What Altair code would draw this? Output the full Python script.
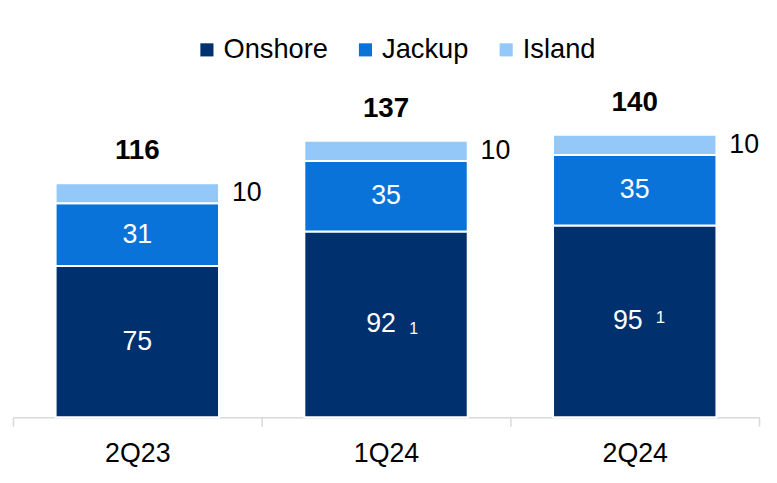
import altair as alt
import pandas as pd

quarters = ["2Q23", "1Q24", "2Q24"]
segments = ["Onshore", "Jackup", "Island"]
onshore = [75, 92, 95]
jackup = [31, 35, 35]
island = [10, 10, 10]
totals = [116, 137, 140]
footnotes = ["", "1", "1"]
colors = ["#00306e", "#0a73d9", "#93c8f9"]

rows = []
for i, q in enumerate(quarters):
    for k, (s, vals) in enumerate(zip(segments, [onshore, jackup, island])):
        rows.append({"quarter": q, "segment": s, "value": vals[i], "order": k,
                     "note": footnotes[i] if s == "Onshore" else ""})
df = pd.DataFrame(rows)
tot_df = pd.DataFrame({"quarter": quarters, "total": totals})

FONT = "Liberation Sans"
yscale = alt.Scale(domain=[0, 160])
x = alt.X("quarter:N", sort=quarters,
          scale=alt.Scale(paddingInner=0, paddingOuter=0),
          axis=alt.Axis(title=None, labelAngle=0, tickBand="extent",
                        domainColor="#d9d9d9", tickColor="#d9d9d9",
                        domainWidth=1.5, tickWidth=1.5, tickSize=9,
                        labelFontSize=27, labelFont=FONT, labelColor="#000000",
                        labelPadding=15, grid=False))

base = (alt.Chart(df)
        .transform_stack(stack="value", groupby=["quarter"],
                         sort=[alt.SortField("order")], as_=["y0", "y1"])
        .transform_calculate(mid="(datum.y0 + datum.y1) / 2"))

bars = base.mark_bar(stroke="white", strokeWidth=2,
                     width=alt.RelativeBandSize(0.657)).encode(
    x=x,
    y=alt.Y("y0:Q", scale=yscale, axis=None),
    y2="y1:Q",
    color=alt.Color("segment:N", scale=alt.Scale(domain=segments, range=colors),
                    legend=alt.Legend(title=None, orient="none", direction="horizontal",
                                      legendX=182, legendY=-59, symbolType="square",
                                      symbolSize=175, symbolStrokeWidth=0,
                                      labelFontSize=27.5, labelFont=FONT,
                                      labelColor="#000000", labelOffset=3,
                                      columnPadding=24)),
)

inner_plain = base.transform_filter(
    "datum.segment != 'Island' && datum.note == ''"
).mark_text(color="white", fontSize=27, font=FONT, baseline="middle").encode(
    x=x, y=alt.Y("mid:Q", scale=yscale), text="value:Q")

inner_q1 = base.transform_filter(
    "datum.note != '' && datum.quarter == '1Q24'"
).mark_text(color="white", fontSize=27, font=FONT, baseline="middle", dx=-5).encode(
    x=x, y=alt.Y("mid:Q", scale=yscale), text="value:Q")

inner_q2 = base.transform_filter(
    "datum.note != '' && datum.quarter == '2Q24'"
).mark_text(color="white", fontSize=27, font=FONT, baseline="middle", dx=-7).encode(
    x=x, y=alt.Y("mid:Q", scale=yscale), text="value:Q")

note_q1 = base.transform_filter(
    "datum.note != '' && datum.quarter == '1Q24'"
).mark_text(color="white", fontSize=16, font=FONT, baseline="middle", dx=28, dy=5).encode(
    x=x, y=alt.Y("mid:Q", scale=yscale), text="note:N")

note_q2 = base.transform_filter(
    "datum.note != '' && datum.quarter == '2Q24'"
).mark_text(color="white", fontSize=17, font=FONT, baseline="middle", dx=26, dy=-3).encode(
    x=x, y=alt.Y("mid:Q", scale=yscale), text="note:N")

island_lbl = base.transform_filter("datum.segment == 'Island'").mark_text(
    color="#000000", fontSize=27, font=FONT, baseline="middle", align="left", dx=13
).encode(x=alt.X("quarter:N", sort=quarters, bandPosition=0.8285),
         y=alt.Y("mid:Q", scale=yscale), text="value:Q")

total_lbl = alt.Chart(tot_df).mark_text(
    color="#000000", fontSize=28, font=FONT, fontWeight="bold", baseline="middle", dy=-32
).encode(x=x, y=alt.Y("total:Q", scale=yscale), text="total:Q")

chart = alt.layer(bars, inner_plain, inner_q1, inner_q2, note_q1, note_q2,
                  island_lbl, total_lbl).properties(
    width=753, height=326,
    padding={"left": 5, "top": 85, "right": 10, "bottom": 50},
    autosize=alt.AutoSizeParams(type="none"),
).configure_view(stroke=None)

chart.save("out.html", embed_options={"renderer": "svg", "actions": False})
